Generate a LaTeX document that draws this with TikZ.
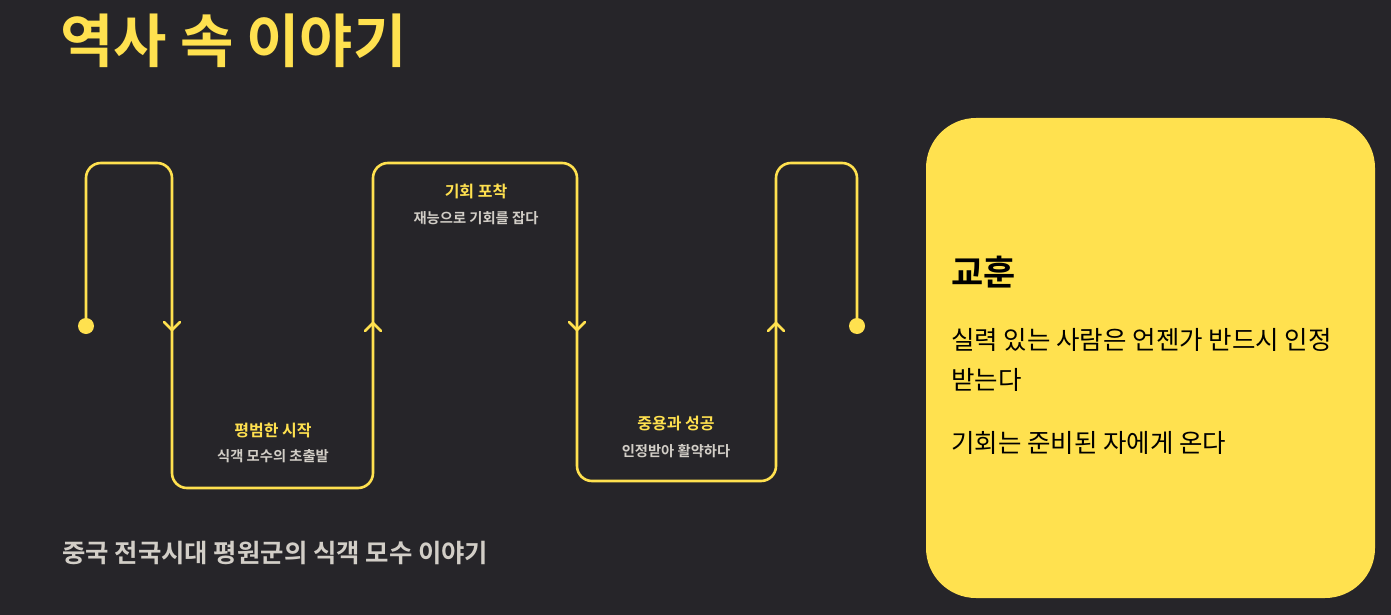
\documentclass[tikz,border=0pt]{standalone}
\usepackage{fontspec}
\newfontfamily\kr{Noto Sans CJK KR}
\newfontfamily\krb{Noto Sans CJK KR Bold}
\definecolor{bg}{HTML}{262529}
\definecolor{ylw}{HTML}{FFE14F}
\definecolor{lgray}{HTML}{D2CEC7}
\tikzset{
  flow/.style={draw=ylw, line width=2.6pt, line cap=round, line join=round},
  dotnode/.style={circle, fill=ylw, inner sep=0pt, minimum size=16pt},
  steptitle/.style={text=ylw, font=\krb\fontsize{16}{18}\selectfont, inner sep=0pt},
  stepsub/.style={text=lgray, font=\krb\fontsize{14.3}{16}\selectfont, inner sep=0pt},
  cardtext/.style={text=black, font=\kr\fontsize{25.5}{28}\selectfont, inner sep=0pt, anchor=west}
}
\begin{document}
\begin{tikzpicture}[x=1pt,y=-1pt]
\fill[bg] (0,0) rectangle (1391,615);
\useasboundingbox (0,0) rectangle (1391,615);
% title
\node[anchor=west, inner sep=0pt, text=ylw, font=\krb\fontsize{58}{64}\selectfont] (title) at (60,41) {역사 속 이야기};
% flow path
\node[dotnode] (start) at (86,326) {};
\node[dotnode] (end) at (857,326) {};
\draw[flow, rounded corners=15pt] (start.center) |- (172,163) -- (172,488) -| (373,163) -| (577,481) -| (776,163) -| (end.center);
% chevrons
\draw[flow] (164,322) -- (172,330) -- (180,322);
\draw[flow] (365,331) -- (373,323) -- (381,331);
\draw[flow] (569,322) -- (577,330) -- (585,322);
\draw[flow] (768,331) -- (776,323) -- (784,331);
% step labels
\node[steptitle] (t1) at (273,431) {평범한 시작};
\node[stepsub] (s1) at (273,456) {식객 모수의 초출발};
\node[steptitle] (t2) at (476,191) {기회 포착};
\node[stepsub] (s2) at (476,218) {재능으로 기회를 잡다};
\node[steptitle] (t3) at (676,424) {중용과 성공};
\node[stepsub] (s3) at (676,451) {인정받아 활약하다};
% subtitle
\node[anchor=west, inner sep=0pt, text=lgray, font=\krb\fontsize{25.4}{28}\selectfont] (sub) at (62,553) {중국 전국시대 평원군의 식객 모수 이야기};
% card
\fill[ylw, rounded corners=50pt] (926,118) rectangle (1375,598);
\node[anchor=west, inner sep=0pt, text=black, font=\krb\fontsize{35}{38}\selectfont] (lesson) at (951,272) {교훈};
\node[cardtext] (l1) at (951,340) {실력 있는 사람은 언젠가 반드시 인정};
\node[cardtext] (l2) at (951,380) {받는다};
\node[cardtext] (l3) at (951,443) {기회는 준비된 자에게 온다};
\end{tikzpicture}
\end{document}
